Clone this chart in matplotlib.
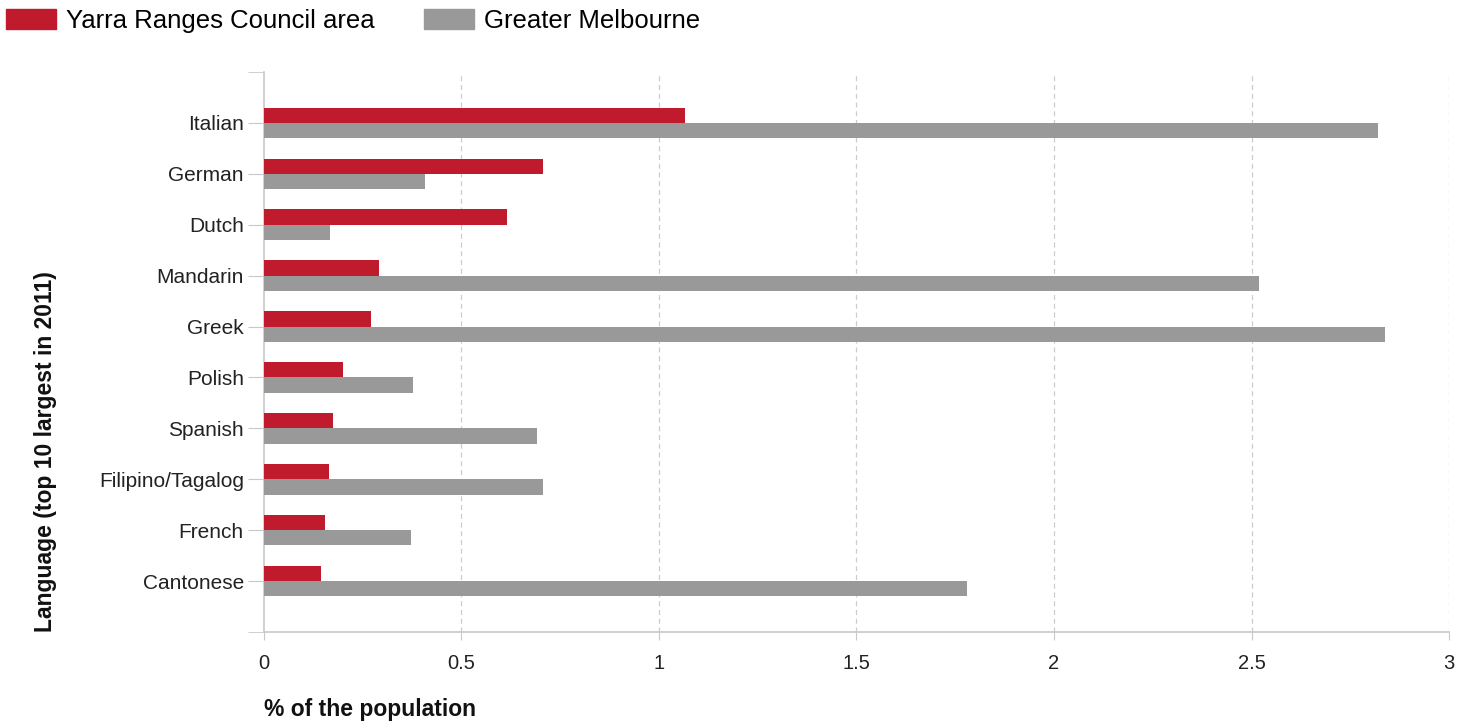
import numpy as np
import matplotlib.pyplot as plt
from matplotlib.patches import Patch

plt.rcParams['font.family'] = ['Liberation Sans', 'DejaVu Sans']

languages = ["Italian", "German", "Dutch", "Mandarin", "Greek", "Polish",
             "Spanish", "Filipino/Tagalog", "French", "Cantonese"]
yarra = [1.066, 0.706, 0.615, 0.291, 0.271, 0.200, 0.175, 0.165, 0.154, 0.144]
melbourne = [2.820, 0.408, 0.167, 2.519, 2.838, 0.377, 0.691, 0.706, 0.372, 1.780]
xticks = [0, 0.5, 1, 1.5, 2, 2.5, 3]
xticklabels = ["0", "0.5", "1", "1.5", "2", "2.5", "3"]

red = "#c01b2c"
grey = "#999999"
axis_grey = "#c8c8c8"

fig = plt.figure(figsize=(14.72, 7.26), dpi=100)
ax = fig.add_axes([0.1793, 0.1295, 0.8051, 0.7713])

y = np.arange(len(languages))
h = 0.3
ax.barh(y - h / 2, yarra, height=h, color=red, zorder=3)
ax.barh(y + h / 2, melbourne, height=h, color=grey, zorder=3)

ax.set_ylim(10, -1)
ax.set_xlim(0, 3)

ax.set_yticks(y)
ax.set_yticklabels(languages, fontsize=15, color="#222222")
ax.set_yticks([-1, 10], minor=True)
ax.tick_params(axis="y", which="both", length=11.5, color=axis_grey, pad=3)

ax.set_xticks(xticks)
ax.set_xticklabels(xticklabels, fontsize=14.5, color="#222222")
ax.tick_params(axis="x", length=6, color=axis_grey, pad=10)

for s in ["top", "right"]:
    ax.spines[s].set_visible(False)
for s in ["left", "bottom"]:
    ax.spines[s].set_color(axis_grey)
    ax.spines[s].set_linewidth(1.2)

for xv in xticks[1:]:
    ax.axvline(xv, color="#cccccc", linestyle=(0, (4, 3)), linewidth=0.9, zorder=1)

ax.set_xlabel("% of the population", fontsize=16.5, fontweight="bold",
              loc="left", labelpad=18, color="#111111")
ax.set_ylabel("Language (top 10 largest in 2011)", fontsize=16.5, fontweight="bold",
              loc="bottom", labelpad=30, color="#111111")

handles = [Patch(color=red, label="Yarra Ranges Council area"),
           Patch(color=grey, label="Greater Melbourne")]
fig.legend(handles=handles, loc="upper left", bbox_to_anchor=(6 / 1472, 1 - 9 / 726),
           ncol=2, frameon=False, fontsize=18.5, handlelength=1.95, handleheight=0.78,
           handletextpad=0.4, columnspacing=1.9, borderaxespad=0, borderpad=0)

fig.savefig("out.png", dpi=100)
